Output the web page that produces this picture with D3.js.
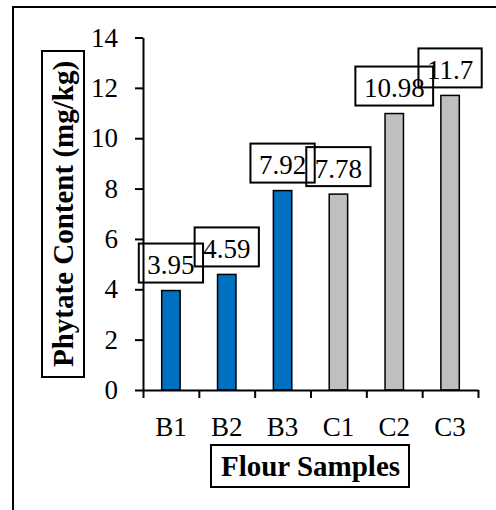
<!DOCTYPE html>
<html>
<head>
<meta charset="utf-8">
<script src="https://cdn.jsdelivr.net/npm/d3@7"></script>
<style>
  body { margin: 0; background: #fff; }
  text { font-family: "Liberation Serif", "Times New Roman", serif; }
</style>
</head>
<body>
<div id="chart"></div>
<script>
// data
var categories = ['B1', 'B2', 'B3', 'C1', 'C2', 'C3'];
var values = [3.95, 4.59, 7.92, 7.78, 10.98, 11.7];
var groups = ['B', 'B', 'B', 'C', 'C', 'C'];
var yTicks = [0, 2, 4, 6, 8, 10, 12, 14];

var width = 496, height = 510;
var plot = { left: 143, right: 478, top: 37.5, bottom: 390 };
var barColor = { B: '#0070C0', C: '#BFBFBF' };

var svg = d3.select('#chart').append('svg')
  .attr('width', width)
  .attr('height', height);

// outer frame
svg.append('rect')
  .attr('x', 13).attr('y', 7)
  .attr('width', 500).attr('height', 520)
  .attr('fill', 'none').attr('stroke', '#000').attr('stroke-width', 2);

var x = d3.scaleBand().domain(categories).range([plot.left, plot.right]);
var xEdge = d3.scaleLinear().domain([0, categories.length]).range([plot.left, plot.right]);
var y = d3.scaleLinear().domain([0, 14]).range([plot.bottom, plot.top]);

// bars
var barW = x.bandwidth() * 0.33;
svg.selectAll('rect.bar')
  .data(values)
  .enter().append('rect')
  .attr('class', 'bar')
  .attr('x', function (d, i) { return x(categories[i]) + (x.bandwidth() - barW) / 2; })
  .attr('y', function (d) { return y(d); })
  .attr('width', barW)
  .attr('height', function (d) { return y(0) - y(d); })
  .attr('fill', function (d, i) { return barColor[groups[i]]; })
  .attr('stroke', '#000')
  .attr('stroke-width', 1.5);

// y axis
var yAxis = svg.append('g')
  .attr('transform', 'translate(' + plot.left + ',0)')
  .call(d3.axisLeft(y).tickValues(yTicks).tickSize(8).tickSizeOuter(0).tickPadding(17));
yAxis.select('.domain').attr('stroke-width', 2);
yAxis.selectAll('.tick line').attr('stroke-width', 2);
yAxis.selectAll('.tick text').attr('font-size', 27).attr('font-family', '"Liberation Serif", serif').attr('fill', '#000');

// x axis: edge ticks + centered labels
var xTicks = svg.append('g')
  .attr('transform', 'translate(0,' + plot.bottom + ')')
  .call(d3.axisBottom(xEdge).ticks(categories.length).tickSize(8).tickSizeOuter(0).tickFormat(''));
xTicks.select('.domain').attr('stroke-width', 2);
xTicks.selectAll('.tick line').attr('stroke-width', 2);

var xLabels = svg.append('g')
  .attr('transform', 'translate(0,' + plot.bottom + ')')
  .call(d3.axisBottom(x).tickSize(0).tickPadding(26.5));
xLabels.select('.domain').remove();
xLabels.selectAll('.tick text').attr('font-size', 27).attr('font-family', '"Liberation Serif", serif').attr('fill', '#000');

// data labels in boxes
var lab = svg.selectAll('g.lab')
  .data(values)
  .enter().append('g')
  .attr('class', 'lab');
lab.append('text')
  .attr('x', function (d, i) { return x(categories[i]) + x.bandwidth() / 2; })
  .attr('y', function (d) { return y(d) - 16.5; })
  .attr('text-anchor', 'middle')
  .attr('font-size', 27)
  .text(function (d) { return d; });
lab.each(function (d, i) {
  var g = d3.select(this);
  var w = g.select('text').node().getComputedTextLength() + 17;
  var cx = x(categories[i]) + x.bandwidth() / 2;
  g.append('rect')
    .attr('x', cx - w / 2)
    .attr('y', y(d) - 8 - 39)
    .attr('width', w)
    .attr('height', 39)
    .attr('fill', 'none')
    .attr('stroke', '#000')
    .attr('stroke-width', 2);
});

// axis titles
var yt = svg.append('text')
  .attr('transform', 'translate(73,214) rotate(-90)')
  .attr('text-anchor', 'middle')
  .attr('font-size', 29)
  .attr('font-weight', 'bold')
  .text('Phytate Content (mg/kg)');
var yb = yt.node().getBBox();
svg.append('rect')
  .attr('x', 42).attr('y', 51)
  .attr('width', 42).attr('height', 326)
  .attr('fill', 'none').attr('stroke', '#000').attr('stroke-width', 2);

svg.append('text')
  .attr('x', (plot.left + plot.right) / 2)
  .attr('y', 476)
  .attr('text-anchor', 'middle')
  .attr('font-size', 29)
  .attr('font-weight', 'bold')
  .text('Flour Samples');
svg.append('rect')
  .attr('x', 211).attr('y', 445)
  .attr('width', 198).attr('height', 42)
  .attr('fill', 'none').attr('stroke', '#000').attr('stroke-width', 2);
</script>
</body>
</html>
